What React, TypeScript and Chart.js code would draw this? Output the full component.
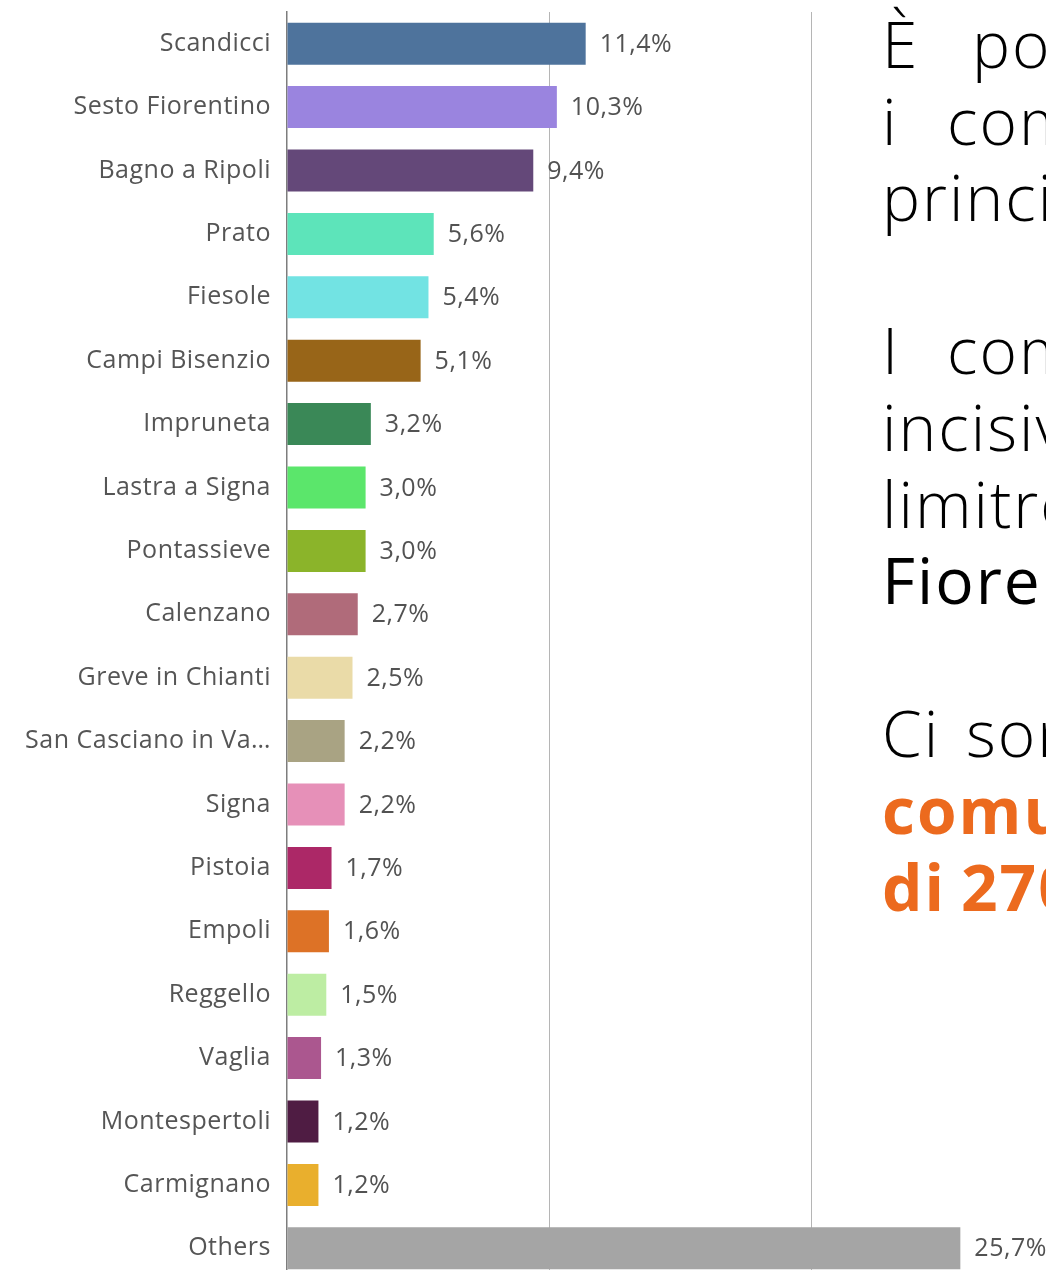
import React, { useEffect, useRef } from "react";
import { Chart, registerables } from "chart.js";

Chart.register(...registerables);

const categories = [
  "Scandicci",
  "Sesto Fiorentino",
  "Bagno a Ripoli",
  "Prato",
  "Fiesole",
  "Campi Bisenzio",
  "Impruneta",
  "Lastra a Signa",
  "Pontassieve",
  "Calenzano",
  "Greve in Chianti",
  "San Casciano in Va…",
  "Signa",
  "Pistoia",
  "Empoli",
  "Reggello",
  "Vaglia",
  "Montespertoli",
  "Carmignano",
  "Others",
];

const shares = [11.4, 10.3, 9.4, 5.6, 5.4, 5.1, 3.2, 3.0, 3.0, 2.7, 2.5, 2.2, 2.2, 1.7, 1.6, 1.5, 1.3, 1.2, 1.2, 25.7];

const barColors = [
  "#4E739C",
  "#9A84DF",
  "#644879",
  "#5DE4BA",
  "#72E3E3",
  "#986518",
  "#3A8857",
  "#5BE66B",
  "#8BB42A",
  "#B06B7A",
  "#EADBA8",
  "#A9A383",
  "#E690B8",
  "#AC2867",
  "#DD7226",
  "#BDEDA3",
  "#AB578F",
  "#4F1C43",
  "#E9AF2D",
  "#A5A5A5",
];

const xTicks = [0, 10, 20, 30];

const FONT = "'Open Sans', 'Noto Sans', sans-serif";

const fmt = (v: number) => v.toFixed(1).replace(".", ",") + "%";

const valueLabels = {
  id: "valueLabels",
  afterDatasetsDraw(chart: any) {
    const ctx = chart.ctx;
    const meta = chart.getDatasetMeta(0);
    ctx.save();
    ctx.font = `25px ${FONT}`;
    ctx.fillStyle = "#525252";
    ctx.textAlign = "left";
    ctx.textBaseline = "middle";
    meta.data.forEach((bar: any, i: number) => {
      ctx.fillText(fmt(shares[i]), bar.x + 14, bar.y + 1);
    });
    ctx.restore();
  },
};

const spacing = {
  id: "spacing",
  beforeDraw(chart: any) {
    try {
      chart.ctx.letterSpacing = "0.5px";
    } catch (e) {}
  },
};

const LH = 76.6;

function Line({ first, second, w, style }: { first: string; second?: string; w?: number; style?: any }) {
  return (
    <div style={{ height: LH, whiteSpace: "nowrap", ...style }}>
      {second !== undefined ? (
        <>
          <span style={{ display: "inline-block", width: w }}>{first}</span>
          <span>{second}</span>
        </>
      ) : (
        <span>{first}</span>
      )}
    </div>
  );
}

export default function App() {
  const ref = useRef<HTMLCanvasElement | null>(null);

  useEffect(() => {
    if (!ref.current) return;
    const chart = new Chart(ref.current, {
      type: "bar",
      data: {
        labels: categories,
        datasets: [
          {
            data: shares,
            backgroundColor: barColors,
            borderWidth: 0,
            barPercentage: 0.663,
            categoryPercentage: 1,
          },
        ],
      },
      options: {
        indexAxis: "y",
        responsive: false,
        animation: false,
        layout: { padding: { top: 12, bottom: 1, left: 0, right: 2 } },
        plugins: {
          legend: { display: false },
          tooltip: { enabled: false },
        },
        scales: {
          x: {
            min: xTicks[0],
            max: xTicks[xTicks.length - 1],
            afterBuildTicks: (s: any) => {
              s.ticks = xTicks.map((v) => ({ value: v }));
            },
            afterFit: (s: any) => {
              s.height = 0;
              s.paddingLeft = 0;
              s.paddingRight = 0;
            },
            ticks: { display: false },
            grid: {
              color: (c: any) => (c.tick && c.tick.value === 0 ? "rgba(0,0,0,0)" : "#b5b5b5"),
              lineWidth: 1,
              drawTicks: false,
            },
            border: { display: false },
          },
          y: {
            afterFit: (s: any) => {
              s.width = 287;
              s.paddingTop = 0;
              s.paddingBottom = 0;
            },
            ticks: {
              color: "#555555",
              font: { family: FONT, size: 25 },
              padding: 16,
            },
            grid: { display: false, drawTicks: false },
            border: { display: true, color: "#7d7d7d", width: 1.5 },
          },
        },
      } as any,
      plugins: [spacing, valueLabels],
    });
    return () => chart.destroy();
  }, []);

  return (
    <div
      style={{
        position: "absolute",
        left: 0,
        top: 0,
        width: 1046,
        height: 1270,
        overflow: "hidden",
        background: "#ffffff",
      }}
    >
      <canvas
        ref={ref}
        width={1075}
        height={1281}
        style={{ position: "absolute", left: 0, top: 0, width: 1075, height: 1281 }}
      />
      <div
        style={{
          position: "absolute",
          left: 882,
          top: 6,
          fontFamily: FONT,
          fontSize: 64,
          lineHeight: `${LH}px`,
          fontWeight: 300,
          letterSpacing: "2px",
          color: "#000000",
        }}
      >
        <Line first="È" second="possibile" w={90} />
        <Line first="i" second="comuni" w={65} />
        <Line first="principali" />
        <div style={{ height: LH }} />
        <Line first="I" second="comuni" w={65} />
        <Line first="incisivi" />
        <Line first="limitrofi" />
        <Line first="Fiorentini" style={{ fontWeight: 500 }} />
        <div style={{ height: LH }} />
        <Line first="Ci" second="sono" w={84} />
        <Line first="comuni" style={{ fontWeight: 700, color: "#EC6A1E" }} />
        <Line first="di" second="270" w={79} style={{ fontWeight: 700, color: "#EC6A1E" }} />
      </div>
    </div>
  );
}
